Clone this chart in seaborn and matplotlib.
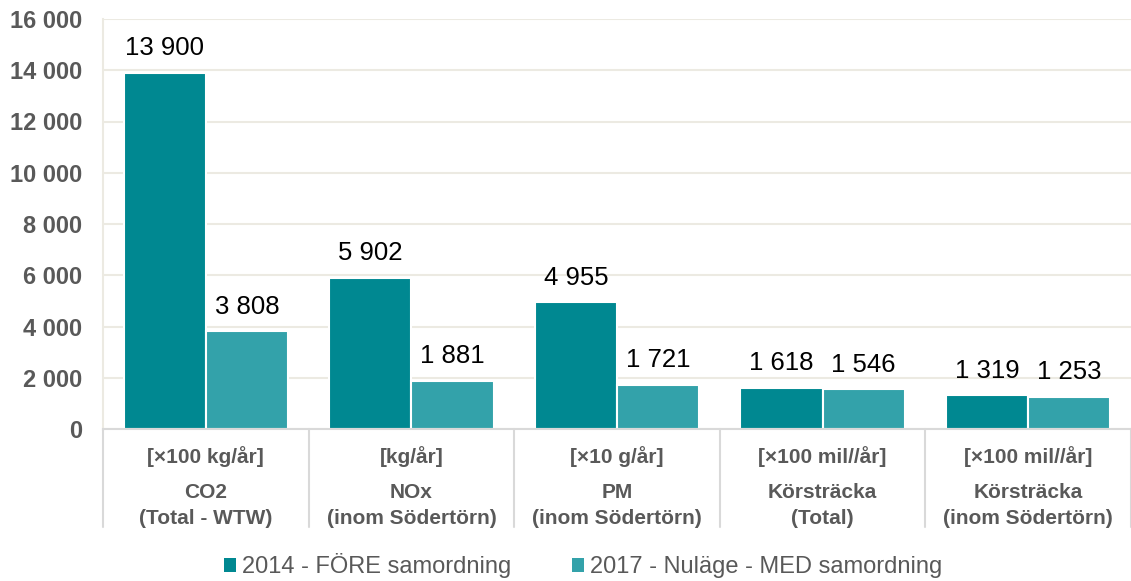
import matplotlib
matplotlib.use("Agg")
import matplotlib.pyplot as plt
import seaborn as sns
import pandas as pd
from matplotlib.patches import Patch
from matplotlib.ticker import FuncFormatter

units = ["[×100 kg/år]", "[kg/år]", "[×10 g/år]", "[×100 mil//år]", "[×100 mil//år]"]
names = ["CO2", "NOx", "PM", "Körsträcka", "Körsträcka"]
subnames = ["(Total - WTW)", "(inom Södertörn)", "(inom Södertörn)", "(Total)", "(inom Södertörn)"]
series = ["2014 - FÖRE samordning", "2017 - Nuläge - MED samordning"]
values_2014 = [13900, 5902, 4955, 1618, 1319]
values_2017 = [3808, 1881, 1721, 1546, 1253]
colors = ["#008891", "#33A2AA"]

sns.set_theme(style="white")
plt.rcParams["font.family"] = ["Liberation Sans", "DejaVu Sans"]

cats = [f"c{i}" for i in range(len(names))]
df = pd.DataFrame({
    "cat": cats * 2,
    "series": [series[0]] * len(cats) + [series[1]] * len(cats),
    "value": values_2014 + values_2017,
})

fig = plt.figure(figsize=(11.31, 5.81), dpi=100)
ax = fig.add_axes([103 / 1131, 1 - 429 / 581, 1 - 103 / 1131, (429 - 19) / 581])

sns.barplot(data=df, x="cat", y="value", hue="series", palette=colors, width=0.8,
            saturation=1, edgecolor="white", linewidth=1.5, ax=ax, legend=False,
            errorbar=None)

ax.set_xlim(-0.5, len(cats) - 0.5)
ax.set_ylim(0, 16000)
ax.set_yticks(range(0, 16001, 2000))
ax.yaxis.set_major_formatter(FuncFormatter(lambda v, p: f"{int(v):,}".replace(",", " ")))
for lab in ax.get_yticklabels():
    lab.set_fontweight("bold")
    lab.set_color("#595959")
    lab.set_fontsize(17)
ax.tick_params(axis="y", length=0, pad=15)
ax.tick_params(axis="x", length=0)
ax.set_xticks([])
ax.set_xlabel("")
ax.set_ylabel("")
ax.set_axisbelow(True)
ax.yaxis.grid(True, color="#ECEAE2", linewidth=1.5)

for s in ["top", "right"]:
    ax.spines[s].set_visible(False)
ax.spines["left"].set_color("#ECEAE2")
ax.spines["left"].set_linewidth(1.5)
ax.spines["bottom"].set_color("#D9D9D9")
ax.spines["bottom"].set_linewidth(1.5)

all_vals = [values_2014, values_2017]
for cont, vals in zip(ax.containers, all_vals):
    ax.bar_label(cont, labels=[f"{v:,}".replace(",", " ") for v in vals],
                 padding=9, fontsize=18.5, color="#000000")

trans = ax.get_xaxis_transform()
for i in range(len(cats)):
    ax.text(i, -0.066, units[i], transform=trans, ha="center", va="center",
            fontsize=15, fontweight="bold", color="#595959")
    ax.text(i, -0.154, names[i], transform=trans, ha="center", va="center",
            fontsize=15, fontweight="bold", color="#595959")
    ax.text(i, -0.218, subnames[i], transform=trans, ha="center", va="center",
            fontsize=15, fontweight="bold", color="#595959")
for xb in [i - 0.5 for i in range(len(cats) + 1)]:
    ax.plot([xb, xb], [0, -0.239], transform=trans, color="#D9D9D9",
            linewidth=1.5, clip_on=False)

handles = [Patch(facecolor=c, edgecolor="none") for c in colors]
fig.legend(handles, series, loc="center", bbox_to_anchor=(583 / 1131, 1 - 566 / 581),
           ncol=2, frameon=False, fontsize=17, handlelength=0.5, handleheight=0.5,
           handletextpad=0.25, columnspacing=2.6, labelcolor="#595959")

fig.savefig("out.png", dpi=100)
